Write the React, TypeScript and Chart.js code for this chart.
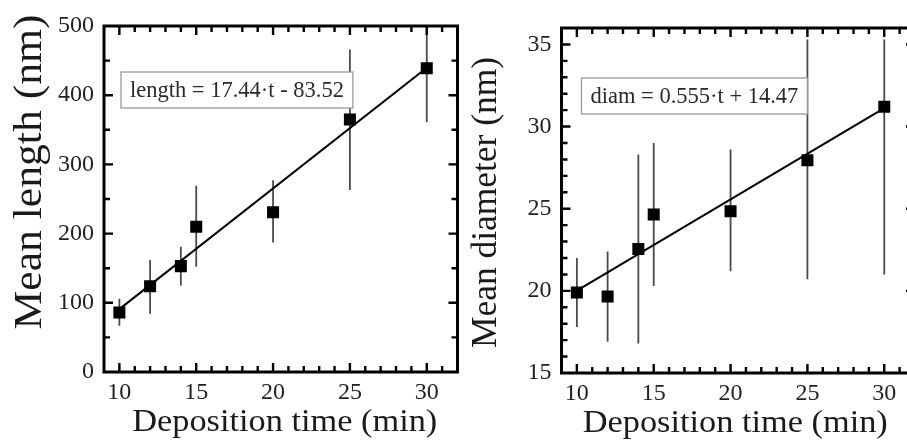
import React, { useEffect, useRef } from "react";
import { Chart, registerables } from "chart.js";

Chart.register(...registerables);

// ---------- data ----------
const times = [10, 12, 14, 15, 20, 25, 30];

const meanLength = [86, 124, 153, 210, 231, 365, 439];
const lengthErrLow = [67, 84, 125, 152, 187, 263, 361];
const lengthErrHigh = [106, 162, 181, 269, 277, 466, 517];

const meanDiameter = [19.9, 19.65, 22.55, 24.65, 24.85, 27.95, 31.2];
const diameterErrLow = [17.8, 16.9, 16.8, 20.3, 21.2, 20.7, 21.0];
const diameterErrHigh = [22.0, 22.4, 28.3, 29.0, 28.6, 35.3, 35.3];

const fitTimes = [10, 30];
const fitLength = [90.9, 439.7];
const fitDiameter = [20.02, 31.12];

const xTickLabels = [10, 15, 20, 25, 30];
const lengthTickLabels = [0, 100, 200, 300, 400, 500];
const diameterTickLabels = [15, 20, 25, 30, 35];

const xRange = [9, 32];
const lengthRange = [0, 500];
const diameterRange = [15, 36];
const xMinorStep = 1;
const lengthMinorStep = 50;
const diameterMinorStep = 1;

const lengthEquation = "length = 17.44\u00b7t - 83.52";
const diameterEquation = "diam = 0.555\u00b7t + 14.47";

// ---------- styling ----------
const FONT = '"Liberation Serif", "Times New Roman", serif';
const H = 441;

type Panel = {
  canvasLeft: number;
  canvasWidth: number;
  area: { left: number; top: number; right: number; bottom: number };
  yRange: number[];
  yTicks: number[];
  yMinorStep: number;
  means: number[];
  low: number[];
  high: number[];
  fit: number[];
  yTitle: string;
  yTitleFontSize: number;
  yTitleLength: number;
  yTitleBaselineX: number;
  yTitleCenterDy: number;
  xTitleDx: number;
  equation: string;
  eqDx: number;
  eqDy: number;
};

const panels: Panel[] = [
  {
    canvasLeft: 0,
    canvasWidth: 466,
    area: { left: 104, top: 26, right: 460, bottom: 372 },
    yRange: lengthRange,
    yTicks: lengthTickLabels,
    yMinorStep: lengthMinorStep,
    means: meanLength,
    low: lengthErrLow,
    high: lengthErrHigh,
    fit: fitLength,
    yTitle: "Mean length (nm)",
    yTitleFontSize: 40,
    yTitleLength: 315,
    yTitleBaselineX: 40.5,
    yTitleCenterDy: -27,
    xTitleDx: 4,
    equation: lengthEquation,
    eqDx: 17,
    eqDy: 46,
  },
  {
    canvasLeft: 466,
    canvasWidth: 460,
    area: { left: 95.5, top: 28, right: 449, bottom: 373 },
    yRange: diameterRange,
    yTicks: diameterTickLabels,
    yMinorStep: diameterMinorStep,
    means: meanDiameter,
    low: diameterErrLow,
    high: diameterErrHigh,
    fit: fitDiameter,
    yTitle: "Mean diameter (nm)",
    yTitleFontSize: 35,
    yTitleLength: 291,
    yTitleBaselineX: 30,
    yTitleCenterDy: 2,
    xTitleDx: -3,
    equation: diameterEquation,
    eqDx: 20,
    eqDy: 50,
  },
];

function drawText(
  ctx: CanvasRenderingContext2D,
  text: string,
  x: number,
  y: number,
  rot: number,
  size: number,
  targetLen?: number
) {
  ctx.save();
  ctx.translate(x, y);
  ctx.rotate(rot);
  ctx.font = `${size}px ${FONT}`;
  ctx.textAlign = "center";
  ctx.textBaseline = "alphabetic";
  if (targetLen) {
    const w = ctx.measureText(text).width;
    ctx.scale(targetLen / w, 1);
  }
  ctx.fillStyle = "#1a1a1a";
  ctx.fillText(text, 0, 0);
  ctx.restore();
}

function makeDecor(p: Panel) {
  return {
    id: "decor",
    beforeDatasetsDraw(chart: any) {
      const { ctx, chartArea: a } = chart;
      const x = chart.scales.x;
      const y = chart.scales.y;
      ctx.save();
      ctx.beginPath();
      ctx.rect(a.left, a.top, a.right - a.left, a.bottom - a.top);
      ctx.clip();
      ctx.strokeStyle = "#4a4a4a";
      ctx.lineWidth = 1.8;
      times.forEach((t, i) => {
        const px = x.getPixelForValue(t);
        ctx.beginPath();
        ctx.moveTo(px, y.getPixelForValue(p.low[i]));
        ctx.lineTo(px, y.getPixelForValue(p.high[i]));
        ctx.stroke();
      });
      ctx.restore();
    },
    afterDraw(chart: any) {
      const { ctx, chartArea: a } = chart;
      const x = chart.scales.x;
      const y = chart.scales.y;
      const majorLen = 9;
      const minorLen = 6;
      ctx.save();
      ctx.strokeStyle = "#000";
      ctx.lineWidth = 2.4;
      // x ticks (bottom and top)
      for (let v = xRange[0]; v <= xRange[1] + 1e-9; v += xMinorStep) {
        const px = x.getPixelForValue(v);
        if (px <= a.left + 2 || px >= a.right - 2) continue;
        const len = xTickLabels.includes(v) ? majorLen : minorLen;
        ctx.beginPath();
        ctx.moveTo(px, a.bottom);
        ctx.lineTo(px, a.bottom - len);
        ctx.moveTo(px, a.top);
        ctx.lineTo(px, a.top + len);
        ctx.stroke();
      }
      // y ticks (left and right)
      for (let v = p.yRange[0]; v <= p.yRange[1] + 1e-9; v += p.yMinorStep) {
        const py = y.getPixelForValue(v);
        if (py <= a.top + 2 || py >= a.bottom - 2) continue;
        const len = p.yTicks.includes(v) ? majorLen : minorLen;
        ctx.beginPath();
        ctx.moveTo(a.left, py);
        ctx.lineTo(a.left + len, py);
        ctx.moveTo(a.right, py);
        ctx.lineTo(a.right - len, py);
        ctx.stroke();
      }
      // frame
      ctx.lineWidth = 3;
      ctx.strokeRect(a.left, a.top, a.right - a.left, a.bottom - a.top);

      // equation box
      const eqSize = 22.5;
      ctx.font = `${eqSize}px ${FONT}`;
      const tw = ctx.measureText(p.equation).width;
      const padX = 9;
      const bx = a.left + p.eqDx;
      const by = a.top + p.eqDy;
      const bw = tw + 2 * padX;
      const bh = 36;
      ctx.fillStyle = "#fff";
      ctx.fillRect(bx, by, bw, bh);
      ctx.strokeStyle = "#9a9a9a";
      ctx.lineWidth = 1.3;
      ctx.strokeRect(bx, by, bw, bh);
      ctx.fillStyle = "#2a2a2a";
      ctx.textAlign = "left";
      ctx.textBaseline = "alphabetic";
      ctx.fillText(p.equation, bx + padX, by + 24.5);
      ctx.restore();

      // axis titles
      const cx = (a.left + a.right) / 2 + p.xTitleDx;
      drawText(ctx, "Deposition time (min)", cx, a.bottom + 59, 0, 32, 305);
      const cy = (a.top + a.bottom) / 2 + p.yTitleCenterDy;
      drawText(ctx, p.yTitle, p.yTitleBaselineX, cy, -Math.PI / 2, p.yTitleFontSize, p.yTitleLength);
    },
  };
}

function PanelChart({ p }: { p: Panel }) {
  const ref = useRef<HTMLCanvasElement | null>(null);
  useEffect(() => {
    if (!ref.current) return;
    const a = p.area;
    const tickFont = { family: FONT, size: 24 };
    const chart = new Chart(ref.current, {
      type: "scatter",
      data: {
        datasets: [
          {
            data: times.map((t, i) => ({ x: t, y: p.means[i] })),
            pointStyle: "rect",
            pointRadius: 8.5,
            pointHoverRadius: 8.5,
            backgroundColor: "#000",
            borderColor: "#000",
            borderWidth: 0,
            showLine: false,
          },
          {
            data: fitTimes.map((t, i) => ({ x: t, y: p.fit[i] })),
            showLine: true,
            pointRadius: 0,
            pointHoverRadius: 0,
            borderColor: "#000",
            borderWidth: 2,
            fill: false,
          },
        ],
      } as any,
      options: {
        responsive: false,
        animation: false,
        devicePixelRatio: 1,
        events: [],
        layout: { padding: { left: 0, top: a.top, right: p.canvasWidth - a.right, bottom: 0 } },
        plugins: { legend: { display: false }, tooltip: { enabled: false } },
        scales: {
          x: {
            type: "linear",
            min: xRange[0],
            max: xRange[1],
            grid: { display: false, drawTicks: false },
            border: { display: false },
            ticks: { font: tickFont, color: "#222", padding: 6, maxRotation: 0, autoSkip: false },
            afterBuildTicks: (s: any) => {
              s.ticks = xTickLabels.map((v) => ({ value: v }));
            },
            afterFit: (s: any) => {
              s.height = H - a.bottom;
            },
          },
          y: {
            type: "linear",
            min: p.yRange[0],
            max: p.yRange[1],
            grid: { display: false, drawTicks: false },
            border: { display: false },
            ticks: { font: tickFont, color: "#222", padding: 10, autoSkip: false },
            afterBuildTicks: (s: any) => {
              s.ticks = p.yTicks.map((v) => ({ value: v }));
            },
            afterFit: (s: any) => {
              s.width = a.left;
            },
          },
        },
      } as any,
      plugins: [makeDecor(p) as any],
    });
    return () => chart.destroy();
  }, [p]);
  return (
    <canvas
      ref={ref}
      width={p.canvasWidth}
      height={H}
      style={{ position: "absolute", left: p.canvasLeft, top: 0, width: p.canvasWidth, height: H }}
    />
  );
}

export default function App() {
  return (
    <div
      style={{
        position: "fixed",
        left: 0,
        top: 0,
        width: 907,
        height: H,
        overflow: "hidden",
        background: "#fff",
      }}
    >
      {panels.map((p, i) => (
        <PanelChart key={i} p={p} />
      ))}
    </div>
  );
}
